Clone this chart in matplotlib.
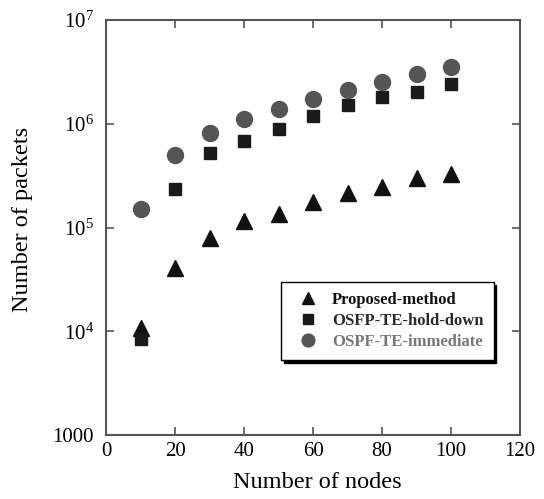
import matplotlib.pyplot as plt
from matplotlib.ticker import FixedLocator, NullLocator

plt.rcParams['font.family'] = ['Liberation Serif', 'DejaVu Serif']

nodes = [10, 20, 30, 40, 50, 60, 70, 80, 90, 100]
proposed = [1.07e4, 4.05e4, 8.0e4, 1.16e5, 1.35e5, 1.76e5, 2.14e5, 2.47e5, 3.02e5, 3.28e5]
hold_down = [8.4e3, 2.33e5, 5.19e5, 6.87e5, 8.84e5, 1.18e6, 1.52e6, 1.82e6, 2.01e6, 2.40e6]
immediate = [1.5e5, 5.0e5, 8.1e5, 1.11e6, 1.39e6, 1.73e6, 2.1e6, 2.52e6, 3.0e6, 3.5e6]

fig = plt.figure(figsize=(5.44, 4.99), dpi=100)
ax = fig.add_axes([0.195, 0.128, 0.761, 0.832])

ax.plot(nodes, proposed, linestyle='none', marker='^', markersize=11,
        color='#111111', label='Proposed-method')
ax.plot(nodes, hold_down, linestyle='none', marker='s', markersize=9,
        color='#1a1a1a', label='OSFP-TE-hold-down')
ax.plot(nodes, immediate, linestyle='none', marker='o', markersize=11.5,
        color='#555555', label='OSPF-TE-immediate')

ax.set_yscale('log')
ax.set_xlim(0, 120)
ax.set_ylim(1000, 1e7)
ax.xaxis.set_major_locator(FixedLocator([0, 20, 40, 60, 80, 100, 120]))
ax.yaxis.set_major_locator(FixedLocator([1e3, 1e4, 1e5, 1e6, 1e7]))
ax.yaxis.set_minor_locator(NullLocator())
ax.set_yticklabels(['1000', r'$\mathregular{10^4}$', r'$\mathregular{10^5}$',
                    r'$\mathregular{10^6}$', r'$\mathregular{10^7}$'])

for s in ax.spines.values():
    s.set_color('#555555')
    s.set_linewidth(1.5)
ax.tick_params(direction='in', top=True, right=True, length=6, width=1.2,
               color='#555555', labelsize=15)
ax.tick_params(axis='x', pad=5)
ax.tick_params(axis='y', pad=9)

ax.set_xlabel('Number of nodes', fontsize=17.5)
ax.set_ylabel('Number of packets', fontsize=17.5)
ax.xaxis.set_label_coords(0.511, -0.089)
ax.yaxis.set_label_coords(-0.176, 0.52)

leg = ax.legend(loc='upper left', bbox_to_anchor=(0.423, 0.369),
                frameon=True, fancybox=False, shadow={'color': 'black', 'alpha': 1},
                edgecolor='black', borderpad=0.6, labelspacing=0.3, handletextpad=0.45,
                markerscale=0.8, borderaxespad=0,
                prop={'weight': 'bold', 'size': 12})
leg.get_frame().set_linewidth(1.0)
for txt, col in zip(leg.get_texts(), ['#111111', '#2a2a2a', '#777777']):
    txt.set_color(col)

fig.savefig('out.png', dpi=100)
